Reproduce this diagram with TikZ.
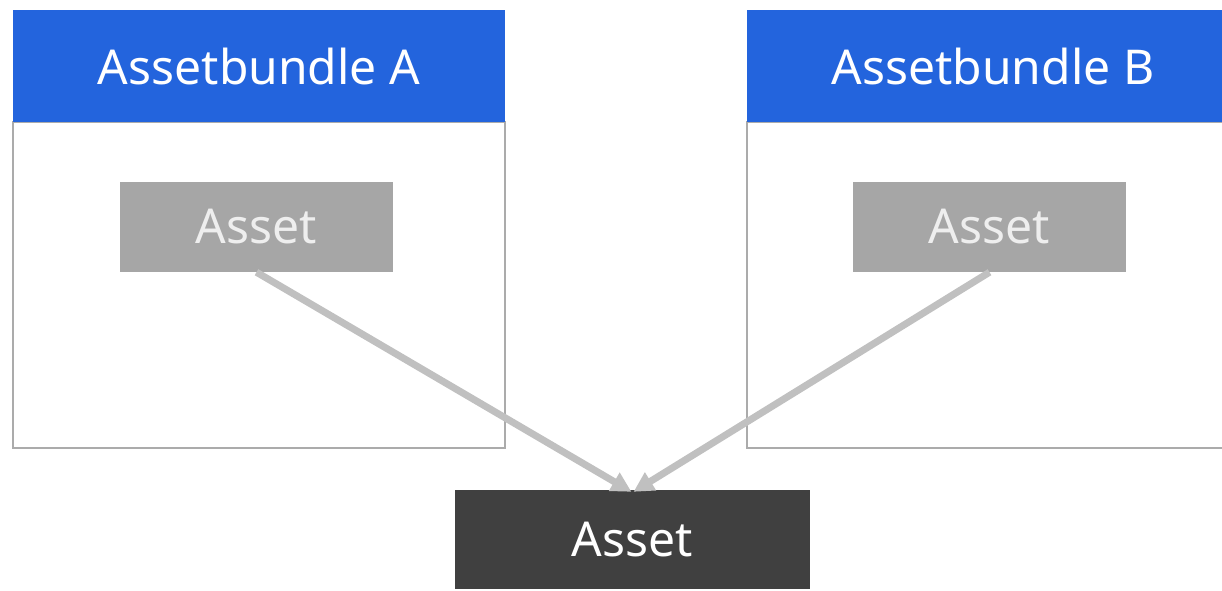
\documentclass[tikz,border=0pt]{standalone}
\usepackage{fontspec}
\setmainfont{Noto Sans}
\usetikzlibrary{arrows.meta}
\definecolor{hdrblue}{HTML}{2364DD}
\definecolor{frame}{HTML}{ABABAB}
\definecolor{assetgray}{HTML}{A6A6A6}
\definecolor{assettext}{HTML}{EEEEEE}
\definecolor{assetdark}{HTML}{404040}
\definecolor{link}{HTML}{C0C0C0}
\tikzset{
  bigtext/.style={font=\fontsize{48}{56}\selectfont},
  header/.style={fill=hdrblue, text=white, bigtext, inner sep=0pt,
    minimum width=492pt, minimum height=112pt},
  bundlebox/.style={draw=frame, line width=2.5pt, fill=white, inner sep=0pt,
    minimum width=492pt, minimum height=326pt},
  innerasset/.style={fill=assetgray, text=assettext, bigtext, inner sep=0pt,
    minimum width=273pt, minimum height=90pt},
  mainasset/.style={fill=assetdark, text=white, bigtext, inner sep=0pt,
    minimum width=355pt, minimum height=99pt},
  dependency/.style={draw=link, line width=7pt,
    -{Triangle[length=20pt, width=20pt]}}
}
\begin{document}
\begin{tikzpicture}[x=1pt, y=-1pt]
  \clip (0,0) rectangle (1222,590);
  \useasboundingbox (0,0) rectangle (1222,590);

  % bundle A
  \node[bundlebox] (boxA) at (259,285) {};
  \node[header] (hdrA) at (259,66) {Assetbundle A};
  \node[innerasset] (assetA) at (256.5,227) {Asset};

  % bundle B
  \node[bundlebox] (boxB) at (993,285) {};
  \node[header] (hdrB) at (993,66) {Assetbundle B};
  \node[innerasset] (assetB) at (989.5,227) {Asset};

  % shared asset
  \node[mainasset] (shared) at (632.5,539.5) {Asset};

  \draw[dependency] (assetA.south) -- ([xshift=-1pt, yshift=-2pt]shared.north);
  \draw[dependency] (assetB.south) -- ([xshift=1pt, yshift=-2pt]shared.north);
\end{tikzpicture}
\end{document}
